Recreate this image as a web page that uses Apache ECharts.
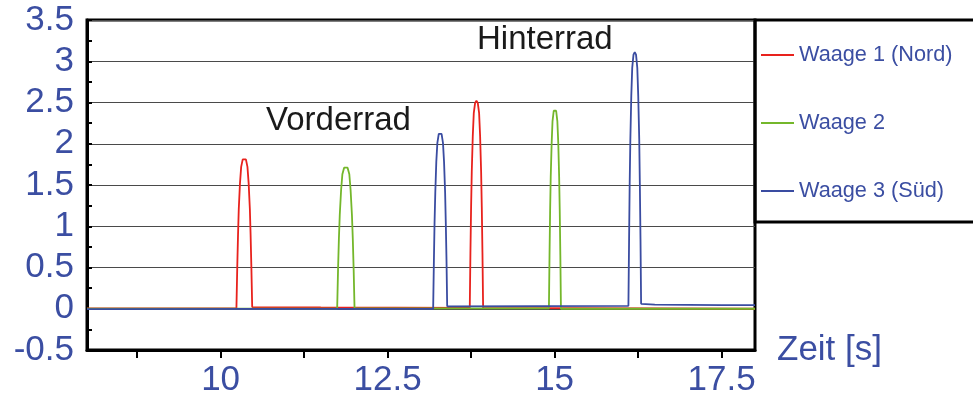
<!DOCTYPE html>
<html>
<head>
<meta charset="utf-8">
<script src="https://cdn.jsdelivr.net/npm/echarts@6/dist/echarts.min.js"></script>
<style>
  html, body { margin: 0; padding: 0; background: #fff; }
  #chart { width: 973px; height: 401px; }
</style>
</head>
<body>
<div id="chart"></div>
<script>
// Load cells: force in tonnes over time in seconds, one trace per scale
const seriesNames = ['Waage 1 (Nord)', 'Waage 2', 'Waage 3 (Süd)'];
const seriesColors = ['#e8221d', '#74b72b', '#3a4ca1'];

const waage1 = [
  [8, 0.005], [10.237, 0.005],
  [10.249, 0.49], [10.261, 0.90], [10.272, 1.21], [10.29, 1.52], [10.308, 1.72], [10.331, 1.81],
  [10.355, 1.83],
  [10.379, 1.81], [10.402, 1.72], [10.42, 1.52], [10.438, 1.21], [10.449, 0.90], [10.461, 0.49],
  [10.473, 0.02], [11.5, 0.015], [13.73, 0.01],
  [13.74, 0.68], [13.75, 1.235], [13.76, 1.66], [13.775, 2.09], [13.79, 2.37], [13.81, 2.495],
  [13.83, 2.52],
  [13.85, 2.495], [13.87, 2.37], [13.885, 2.09], [13.90, 1.66], [13.91, 1.235], [13.92, 0.68],
  [13.93, 0.01], [18, 0.0]
];

const waage2 = [
  [8, 0.0], [11.745, 0.0],
  [11.758, 0.47], [11.771, 0.85], [11.784, 1.14], [11.804, 1.44], [11.823, 1.63], [11.849, 1.71],
  [11.875, 1.73],
  [11.901, 1.71], [11.927, 1.63], [11.946, 1.44], [11.966, 1.14], [11.979, 0.85], [11.992, 0.47],
  [12.005, 0.005], [14.915, 0.005],
  [14.924, 0.65], [14.933, 1.19], [14.942, 1.60], [14.956, 2.01], [14.969, 2.275], [14.987, 2.40],
  [15.005, 2.42],
  [15.023, 2.40], [15.041, 2.275], [15.055, 2.01], [15.068, 1.60], [15.077, 1.19], [15.086, 0.65],
  [15.095, 0.0], [18, 0.0]
];

const waage3 = [
  [8, -0.005], [13.182, 0.0],
  [13.193, 0.58], [13.203, 1.05], [13.214, 1.41], [13.229, 1.78], [13.245, 2.01], [13.266, 2.12],
  [13.287, 2.14],
  [13.308, 2.12], [13.329, 2.01], [13.345, 1.78], [13.361, 1.41], [13.371, 1.05], [13.382, 0.58],
  [13.392, 0.03], [16.105, 0.035],
  [16.115, 0.84], [16.124, 1.52], [16.134, 2.05], [16.148, 2.58], [16.162, 2.92], [16.181, 3.08],
  [16.2, 3.11],
  [16.219, 3.08], [16.238, 2.92], [16.252, 2.58], [16.267, 2.05], [16.276, 1.52], [16.286, 0.84],
  [16.295, 0.06], [16.5, 0.05], [17.5, 0.045], [18, 0.045]
];

const seriesData = [waage1, waage2, waage3];

// Axis ticks and labels
const xLabelValues = [10, 12.5, 15, 17.5];
const xTickValues = [8.75, 10, 11.25, 12.5, 13.75, 15, 16.25, 17.5];
const axisTitle = 'Zeit [s]';
const annotations = [
  { text: 'Vorderrad', x: 266, y: 121 },
  { text: 'Hinterrad', x: 477, y: 40 }
];

const labelBlue = '#3b4ea2';
const fontFamily = '"Liberation Sans", Arial, sans-serif';

const chart = echarts.init(document.getElementById('chart'), null, { renderer: 'canvas' });

chart.setOption({
  animation: false,
  backgroundColor: '#fff',
  grid: {
    left: 87, right: 218, top: 20, bottom: 51,
    show: true, borderColor: '#000', borderWidth: 3, backgroundColor: 'transparent'
  },
  xAxis: {
    type: 'value',
    min: 8, max: 18,
    name: axisTitle,
    nameLocation: 'end',
    nameGap: 22,
    nameTextStyle: {
      fontSize: 35, color: labelBlue, fontFamily: fontFamily,
      verticalAlign: 'middle', padding: [8, 0, 0, 0]
    },
    axisLine: { show: true, onZero: false, lineStyle: { color: '#000', width: 3 } },
    axisTick: { show: true, length: 8, customValues: xTickValues, lineStyle: { color: '#000', width: 2 } },
    axisLabel: {
      customValues: xLabelValues,
      fontSize: 35, color: labelBlue, fontFamily: fontFamily, margin: 13
    },
    splitLine: { show: false }
  },
  yAxis: {
    type: 'value',
    min: -0.5, max: 3.5, interval: 0.5,
    axisLine: { show: true, lineStyle: { color: '#000', width: 3 } },
    axisTick: { show: true, inside: true, length: 5, lineStyle: { color: '#000', width: 2 } },
    minorTick: { show: true, splitNumber: 2, length: 5, lineStyle: { color: '#000', width: 2 } },
    axisLabel: { fontSize: 35, color: labelBlue, fontFamily: fontFamily, margin: 13 },
    splitLine: { show: true, lineStyle: { color: '#4a4a4a', width: 1 } }
  },
  legend: {
    orient: 'vertical',
    left: 761, top: 43, padding: 0,
    itemWidth: 33, itemHeight: 14, itemGap: 44,
    icon: 'path://M0,0 L33,0 L33,2 L0,2 Z',
    textStyle: { fontSize: 21.7, color: labelBlue, fontFamily: fontFamily, lineHeight: 24 },
    data: seriesNames.map((n, i) => ({ name: n, itemStyle: { color: seriesColors[i] } }))
  },
  graphic: [
    {
      type: 'rect', z: 100, silent: true,
      shape: { x: 755, y: 20, width: 240, height: 202 },
      style: { fill: 'none', stroke: '#000', lineWidth: 3 }
    }
  ].concat(annotations.map(a => ({
    type: 'text', z: 100, silent: true,
    style: {
      text: a.text, x: a.x, y: a.y,
      font: '33px ' + fontFamily, fill: '#1a1a1a',
      textAlign: 'left', textVerticalAlign: 'middle'
    }
  }))),
  series: seriesData.map((d, i) => ({
    name: seriesNames[i],
    type: 'line',
    data: d,
    symbol: 'none',
    showSymbol: false,
    color: seriesColors[i],
    lineStyle: { color: seriesColors[i], width: 1.8 }
  }))
});
</script>
</body>
</html>
